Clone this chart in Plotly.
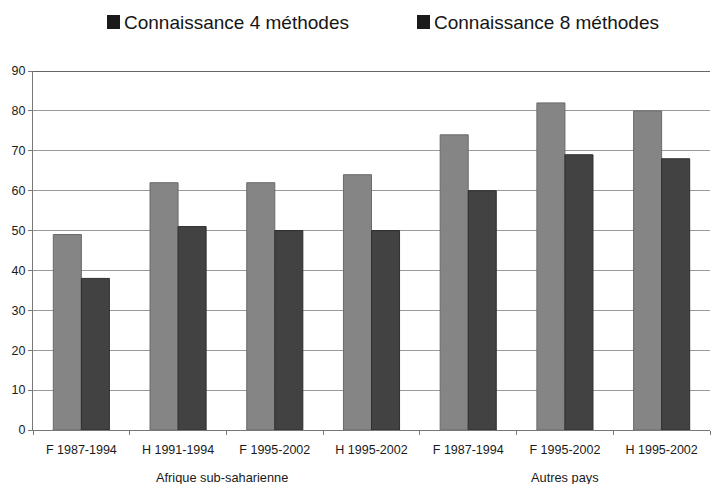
import plotly.graph_objects as go

# Survey groups and their periods
periods = ["F 1987-1994", "H 1991-1994", "F 1995-2002", "H 1995-2002",
           "F 1987-1994", "F 1995-2002", "H 1995-2002"]
regions = ["Afrique sub-saharienne", "Autres pays"]
region_centers = [1.45, 5.0]

# Percentage knowing the methods
know_4 = [49, 62, 62, 64, 74, 82, 80]
know_8 = [38, 51, 50, 50, 60, 69, 68]

series_names = ["Connaissance 4 méthodes", "Connaissance 8 méthodes"]
y_ticks = [0, 10, 20, 30, 40, 50, 60, 70, 80, 90]

FONT = "Arial, Liberation Sans, sans-serif"
x_pos = list(range(len(periods)))

# Plot-area geometry in pixels (used to place the text blocks)
PLOT_L, PLOT_W, PLOT_B, PLOT_H = 33, 677, 430, 359


def px_x(p):
    return (p - PLOT_L) / PLOT_W


def px_y(p):
    return (PLOT_B - p) / PLOT_H


fig = go.Figure()
fig.add_trace(go.Bar(x=x_pos, y=know_4, name=series_names[0],
                     marker=dict(color="#858585", line=dict(color="#6a6a6a", width=1))))
fig.add_trace(go.Bar(x=x_pos, y=know_8, name=series_names[1],
                     marker=dict(color="#424242", line=dict(color="#2e2e2e", width=1))))

# Legend: a dark square followed by the series name
legend_x = [107, 417]
for lx, name in zip(legend_x, series_names):
    fig.add_shape(type="rect", xref="paper", yref="paper",
                  x0=px_x(lx), x1=px_x(lx + 13), y0=px_y(29), y1=px_y(15),
                  fillcolor="#1a1a1a", line=dict(width=0))
    fig.add_annotation(xref="paper", yref="paper",
                       x=px_x(lx + 17), y=px_y(22),
                       text=name, showarrow=False, xanchor="left", yanchor="middle",
                       xshift=-2,
                       font=dict(family=FONT, size=19, color="#151515"))

# Region labels below the period labels
for cx, reg in zip(region_centers, regions):
    fig.add_annotation(x=cx, xref="x", yref="paper", y=px_y(477),
                       text=reg, showarrow=False, yanchor="middle",
                       font=dict(family=FONT, size=12.8, color="#1a1a1a"))

fig.update_layout(
    width=713, height=484,
    margin=dict(l=PLOT_L, r=713 - PLOT_L - PLOT_W, t=PLOT_B - PLOT_H, b=484 - PLOT_B),
    barmode="group", bargap=0.42, bargroupgap=0,
    showlegend=False,
    plot_bgcolor="white", paper_bgcolor="white",
    font=dict(family=FONT, size=12, color="#1a1a1a"),
)
fig.update_xaxes(
    range=[-0.5, 6.5], tickmode="array", tickvals=x_pos, ticktext=periods,
    ticks="", showgrid=False, showline=True, linecolor="#777777", linewidth=1,
    ticklabelstandoff=8,
    tickfont=dict(family=FONT, size=12.5, color="#1a1a1a"),
    minor=dict(tickmode="array", tickvals=[i + 0.5 for i in range(-1, 7)],
               ticks="outside", ticklen=4, tickcolor="#777777"),
    fixedrange=True,
)
fig.update_yaxes(
    range=[0, 90], tickmode="array", tickvals=y_ticks,
    ticks="outside", ticklen=4, tickcolor="#777777",
    showgrid=True, gridcolor="#9a9a9a", gridwidth=1,
    showline=True, linecolor="#777777", linewidth=1,
    zeroline=False,
    tickfont=dict(family=FONT, size=12.5, color="#1a1a1a"),
    fixedrange=True,
)
# Heavier line along the top of the plot area
fig.add_shape(type="line", xref="paper", yref="y", x0=0, x1=1, y0=90, y1=90,
              line=dict(color="#333333", width=1.5))

fig.write_html("out.html")
